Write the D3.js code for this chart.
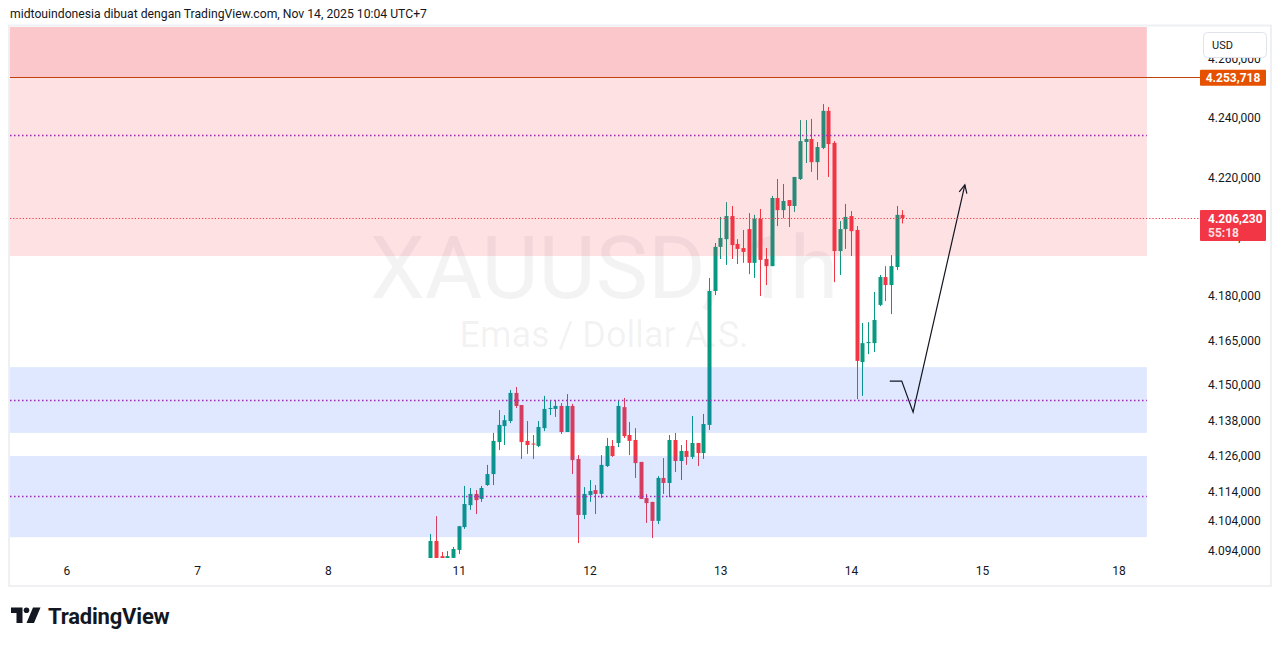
<!DOCTYPE html>
<html><head><meta charset="utf-8">
<script src="https://cdn.jsdelivr.net/npm/d3@7"></script>
<style>
html,body{margin:0;padding:0;background:#fff;}
svg{display:block;font-family:Roboto,"Noto Sans",sans-serif;}
</style></head>
<body>
<svg id="c" width="1281" height="646"></svg>
<script>
// ---- data ----
const opens = [4090.1,4097.2,4092.1,4091.1,4091.5,4094.2,4101.9,4109.3,4113.1,4111.4,
4116.1,4119.8,4130.6,4136.0,4137.7,4147.2,4143.1,4131.0,4130.1,4129.3,
4135.3,4141.8,4141.8,4142.8,4134.0,4142.8,4124.9,4106.0,4112.7,4114.4,
4113.1,4122.5,4129.3,4130.3,4142.4,4133.0,4131.3,4123.9,4111.7,4110.4,
4104.0,4118.5,4116.8,4131.3,4124.2,4127.6,4125.6,4130.3,4126.9,4136.4,
4181.6,4196.5,4199.1,4206.9,4197.5,4196.1,4202.5,4191.1,4205.9,4192.4,
4190.0,4213.0,4208.9,4212.3,4210.3,4219.4,4231.9,4232.9,4225.1,4229.9,
4242.4,4231.6,4195.1,4202.5,4206.9,4202.2,4157.6,4164.0,4164.0,4176.9,
4186.3,4183.6,4189.7,4207.3];
const highs = [4099.6,4105.6,4093.5,4093.8,4095.2,4102.3,4115.8,4115.1,4114.4,4115.8,
4122.9,4133.7,4141.4,4139.7,4148.2,4149.2,4143.1,4137.7,4133.0,4137.7,
4146.2,4144.8,4144.8,4143.8,4146.8,4143.5,4126.2,4115.4,4117.8,4116.1,
4126.2,4132.0,4131.3,4144.8,4145.5,4137.4,4135.3,4123.9,4113.1,4110.4,
4119.1,4125.2,4133.0,4133.7,4129.6,4131.3,4139.4,4130.3,4140.1,4186.0,
4197.8,4206.6,4211.6,4210.3,4199.1,4202.2,4207.9,4207.3,4209.3,4196.1,
4213.7,4219.4,4217.7,4212.3,4220.1,4239.3,4239.3,4239.7,4231.9,4244.7,
4243.7,4232.2,4205.2,4211.0,4208.6,4203.5,4170.8,4171.1,4181.3,4187.0,
4190.0,4193.7,4210.3,4208.9];
const lows = [4088.8,4088.1,4090.1,4090.1,4090.8,4092.8,4101.3,4107.7,4106.3,4110.4,
4115.8,4116.1,4127.9,4129.6,4137.0,4142.1,4124.9,4126.6,4124.9,4128.9,
4134.3,4139.7,4139.1,4133.3,4134.0,4119.8,4096.5,4104.6,4110.4,4106.3,
4111.7,4122.2,4125.6,4128.9,4132.0,4126.2,4118.5,4111.4,4103.3,4098.2,
4102.9,4113.1,4112.0,4120.5,4117.8,4122.9,4124.9,4122.5,4124.9,4134.7,
4180.2,4192.4,4190.4,4192.4,4190.7,4191.1,4187.3,4186.0,4179.9,4183.6,
4190.0,4203.5,4206.2,4203.2,4208.3,4219.1,4224.8,4221.8,4219.1,4229.5,
4220.1,4184.6,4187.0,4195.8,4193.4,4145.1,4146.2,4160.3,4161.0,4176.5,
4178.2,4173.8,4188.7,4204.4];
const closes = [4097.2,4090.8,4091.1,4092.1,4094.5,4102.2,4109.7,4113.1,4111.0,4115.1,
4119.8,4131.0,4136.4,4138.0,4147.2,4142.8,4130.6,4129.6,4129.8,4135.7,
4141.8,4142.1,4142.8,4134.0,4142.8,4124.5,4106.0,4113.1,4114.1,4113.1,
4122.9,4129.3,4125.9,4142.8,4132.6,4131.0,4123.5,4111.4,4110.0,4104.0,
4118.5,4116.8,4131.3,4124.2,4127.6,4125.6,4130.3,4126.9,4136.7,4181.6,
4196.5,4199.5,4206.9,4197.1,4195.8,4194.8,4191.1,4205.9,4192.1,4190.0,
4213.0,4208.9,4212.0,4210.3,4220.1,4232.2,4232.9,4225.1,4230.2,4242.4,
4231.2,4195.1,4202.5,4206.6,4201.8,4158.0,4164.0,4164.4,4171.8,4186.3,
4183.6,4190.0,4207.3,4206.23];

const dayLabels = ["6","7","8","11","12","13","14","15","18"];
const dayIndex  = [-64,-41,-18,5,28,51,74,97,121];
const priceTicks = [4094,4104,4114,4126,4138,4150,4165,4180,4200,4220,4240,4260];

const lastPrice = 4206.23;
const countdown = "55:18";
const levelPrice = 4253.718;
const pinkZones = [[4193.4,4275],[4253.718,4275]];
const blueZones = [[4133.7,4155.9],[4098.5,4125.9]];
const zoneEndIndex = 126;
const dottedLevels = [4234.3,4144.8,4112.4];
const arrowIdx = [80.8,82.9,84.9,94.0];
const arrowPrice = [4151.2,4151.2,4140.7,4217.4];

// ---- layout ----
const svg = d3.select("#c");
const plot = {l:10, r:1197, t:27, b:558};
const x = d3.scaleLinear().domain([0,83]).range([430.3,902.3]);
const y = d3.scaleLinear().domain([4240,4094]).range([118,550.5]);
const fmt = d3.formatLocale({decimal:",",thousands:".",grouping:[3],currency:["",""]}).format(",.3f");

const defs = svg.append("defs");
defs.append("clipPath").attr("id","pc").append("rect")
  .attr("x",plot.l).attr("y",plot.t).attr("width",plot.r-plot.l).attr("height",plot.b-plot.t);

// header
svg.append("text").attr("x",10).attr("y",18).attr("font-size",12.2).attr("fill","#131722")
  .text("midtouindonesia dibuat dengan TradingView.com, Nov 14, 2025 10:04 UTC+7");

// frame
svg.append("rect").attr("x",9).attr("y",25.5).attr("width",1262).attr("height",560.5)
  .attr("fill","none").attr("stroke","#eef0f3").attr("stroke-width",2);

const g = svg.append("g").attr("clip-path","url(#pc)");

// watermark
g.append("text").attr("x",604).attr("y",298).attr("text-anchor","middle")
  .attr("font-size",88).attr("fill","rgba(120,123,134,0.09)").text("XAUUSD, 1h");
g.append("text").attr("x",604).attr("y",347).attr("text-anchor","middle")
  .attr("font-size",36).attr("fill","rgba(120,123,134,0.09)").text("Emas / Dollar A.S.");

// candles
const idx = d3.range(opens.length);
const up = "#089981", dn = "#f23645";
const cg = g.append("g");
cg.selectAll("line").data(idx).join("line")
  .attr("x1",i=>Math.round(x(i))+0.5).attr("x2",i=>Math.round(x(i))+0.5)
  .attr("y1",i=>y(highs[i])).attr("y2",i=>y(lows[i]))
  .attr("stroke",i=>closes[i]>=opens[i]?up:dn).attr("stroke-width",1);
cg.selectAll("rect").data(idx).join("rect")
  .attr("x",i=>Math.round(x(i))-1.5).attr("width",4)
  .attr("y",i=>y(Math.max(opens[i],closes[i])))
  .attr("height",i=>Math.max(1,Math.abs(y(opens[i])-y(closes[i]))))
  .attr("fill",i=>closes[i]>=opens[i]?up:dn);

// zones (semi-transparent, above candles)
const zx0 = plot.l, zx1 = x(zoneEndIndex);
g.selectAll("rect.pz").data(pinkZones).join("rect").attr("class","pz")
  .attr("x",zx0).attr("width",zx1-zx0)
  .attr("y",d=>y(d[1])).attr("height",d=>y(d[0])-y(d[1]))
  .attr("fill","rgba(242,54,69,0.15)");
g.selectAll("rect.bz").data(blueZones).join("rect").attr("class","bz")
  .attr("x",zx0).attr("width",zx1-zx0)
  .attr("y",d=>y(d[1])).attr("height",d=>y(d[0])-y(d[1]))
  .attr("fill","rgba(41,98,255,0.15)");

// dotted purple levels
g.selectAll("line.dl").data(dottedLevels).join("line").attr("class","dl")
  .attr("x1",zx0).attr("x2",zx1)
  .attr("y1",d=>Math.round(y(d))+0.5).attr("y2",d=>Math.round(y(d))+0.5)
  .attr("stroke","#9c27b0").attr("stroke-width",1.3).attr("stroke-dasharray","1.5,2.5");

// horizontal level line
svg.append("line").attr("x1",plot.l).attr("x2",1200)
  .attr("y1",Math.round(y(levelPrice))+0.5).attr("y2",Math.round(y(levelPrice))+0.5)
  .attr("stroke","#c2410c").attr("stroke-width",1);

// current price line
svg.append("line").attr("x1",plot.l).attr("x2",1200)
  .attr("y1",Math.round(y(lastPrice))+0.5).attr("y2",Math.round(y(lastPrice))+0.5)
  .attr("stroke","#f23645").attr("stroke-width",1).attr("stroke-dasharray","1.2,2");

// arrow drawing
const pts = arrowIdx.map((d,i)=>[x(d),y(arrowPrice[i])]);
g.append("path").attr("d",d3.line()(pts)).attr("fill","none")
  .attr("stroke","#131722").attr("stroke-width",1.2);
{
  const a = pts[pts.length-1], b = pts[pts.length-2];
  const ang = Math.atan2(a[1]-b[1], a[0]-b[0]);
  const L = 9, spread = 0.45;
  const p1 = [a[0]-L*Math.cos(ang-spread), a[1]-L*Math.sin(ang-spread)];
  const p2 = [a[0]-L*Math.cos(ang+spread), a[1]-L*Math.sin(ang+spread)];
  g.append("path").attr("d",d3.line()([p1,a,p2])).attr("fill","none")
    .attr("stroke","#131722").attr("stroke-width",1.2);
}

// price axis
const ya = svg.append("g").attr("transform","translate(1208,0)")
  .call(d3.axisRight(y).tickValues(priceTicks).tickFormat(fmt).tickSize(0).tickPadding(0));
ya.select(".domain").remove();
ya.selectAll("text").attr("font-size",12).attr("fill","#131722").attr("font-family","Roboto");

// time axis
const xa = svg.append("g").attr("transform","translate(0,566)")
  .call(d3.axisBottom(x).tickValues(dayIndex).tickFormat((d,i)=>dayLabels[i]).tickSize(0).tickPadding(0));
xa.select(".domain").remove();
xa.selectAll("text").attr("font-size",12).attr("fill","#131722").attr("font-family","Roboto");

// USD button
svg.append("rect").attr("x",1203.5).attr("y",32.5).attr("width",63).attr("height",25).attr("rx",4)
  .attr("fill","#fff").attr("stroke","#e0e3eb");
svg.append("text").attr("x",1212).attr("y",49).attr("font-size",11).attr("fill","#131722").text("USD");

// level label
const ly = y(levelPrice);
svg.append("rect").attr("x",1200).attr("y",ly-7.5).attr("width",66).attr("height",16).attr("rx",1)
  .attr("fill","#e65100");
svg.append("text").attr("x",1233).attr("y",ly+4.5).attr("text-anchor","middle")
  .attr("font-size",12).attr("font-weight","bold").attr("fill","#fff").text(fmt(levelPrice));

// last price label
const py = y(lastPrice);
svg.append("rect").attr("x",1200).attr("y",py-8).attr("width",66).attr("height",31).attr("rx",1)
  .attr("fill","#f23645");
svg.append("text").attr("x",1208).attr("y",py+4.5)
  .attr("font-size",12).attr("font-weight","bold").attr("fill","#fff").text(fmt(lastPrice));
svg.append("text").attr("x",1208).attr("y",py+18.5)
  .attr("font-size",12).attr("font-weight","bold").attr("fill","rgba(255,255,255,0.85)").text(countdown);

// TradingView logo
const lg = svg.append("g").attr("fill","#131722");
lg.append("path").attr("d","M11,607.5 H22.5 V623 H16.5 V613 H11 Z");
lg.append("circle").attr("cx",26.5).attr("cy",610.3).attr("r",2.8);
lg.append("path").attr("d","M33,607.5 H40.5 L34,623 H26.5 Z");
svg.append("text").attr("x",48).attr("y",623.5).attr("font-size",22).attr("font-weight","bold")
  .attr("fill","#131722").attr("letter-spacing","-0.2").text("TradingView");
</script>
</body></html>
